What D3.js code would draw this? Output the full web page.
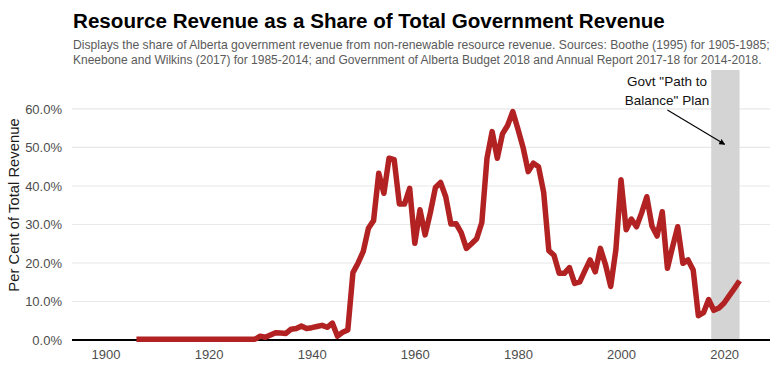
<!DOCTYPE html>
<html>
<head>
<meta charset="utf-8">
<script src="https://cdn.jsdelivr.net/npm/d3@7"></script>
<style>
  html, body { margin: 0; padding: 0; background: #fff; }
  svg { display: block; font-family: "Liberation Sans", Arial, sans-serif; }
</style>
</head>
<body>
<svg id="chart" width="780" height="390"></svg>
<script>
// ---------- DATA ----------
const years = d3.range(1906, 2024);
const earlyZeros = d3.range(1906, 1930).map(() => 0.2); // 1906-1929
const shares1930on = [
  1.0, 0.7, 1.3, 1.9, 1.8, 1.7, 2.8, 3.0, 3.6, 3.0,       // 1930-1939
  3.2, 3.5, 3.8, 3.3, 4.4, 1.0, 2.0, 2.6, 17.5, 20.0,     // 1940-1949
  23.0, 29.0, 31.0, 43.3, 38.1, 47.2, 46.8, 35.3, 35.3, 39.4, // 1950-1959
  25.1, 33.8, 27.3, 33.0, 39.6, 40.9, 37.2, 30.1, 30.2, 27.9, // 1960-1969
  23.8, 25.0, 26.3, 30.5, 47.2, 54.1, 47.2, 53.5, 55.7, 59.3, // 1970-1979
  54.8, 50.0, 43.7, 45.9, 45.0, 38.3, 23.2, 22.0, 17.3, 17.3, // 1980-1989
  18.8, 14.7, 15.1, 18.0, 20.8, 17.7, 23.8, 19.5, 13.9, 23.4, // 1990-1999
  41.6, 28.6, 31.4, 29.4, 33.0, 37.2, 29.6, 27.0, 33.3, 18.6, // 2000-2009
  24.2, 29.4, 19.9, 20.8, 18.2, 6.3, 7.1, 10.5, 7.7, 8.3,     // 2010-2019
  9.6, 11.5, 13.4, 15.4                                       // 2020-2023
];
const shares = earlyZeros.concat(shares1930on);
const yTicks = [0, 10, 20, 30, 40, 50, 60];
const xTicks = [1900, 1920, 1940, 1960, 1980, 2000, 2020];
const planBand = [2017.5, 2023];
const titleText = "Resource Revenue as a Share of Total Government Revenue";
const subtitleLines = [
  "Displays the share of Alberta government revenue from non-renewable resource revenue. Sources: Boothe (1995) for 1905-1985;",
  "Kneebone and Wilkins (2017) for 1985-2014; and Government of Alberta Budget 2018 and Annual Report 2017-18 for 2014-2018."
];
const annotationLines = ['Govt "Path to', 'Balance" Plan'];
const yTitle = "Per Cent of Total Revenue";
const arrowFrom = [2009, 59.7];
const arrowTo = [2020.1, 50.8];

const data = years.map((yr, i) => ({ year: yr, value: shares[i] }));

// ---------- LAYOUT ----------
const svg = d3.select("#chart");
const pLeft = 72, pRight = 770, pTop = 70, pBottom = 340;

const x = d3.scaleLinear().domain([1893.5, 2028.9]).range([pLeft, pRight]);
const y = d3.scaleLinear().domain([0, 70.1]).range([pBottom, pTop]);

// Title
const title = svg.append("text")
  .attr("x", 73).attr("y", 28)
  .attr("font-weight", "bold").attr("font-size", 22)
  .attr("fill", "#000")
  .text(titleText);
{
  const w = title.node().getComputedTextLength();
  title.attr("font-size", 22 * 592 / w);
}

// Subtitle
subtitleLines.forEach((line, i) => {
  const t = svg.append("text")
    .attr("x", 73).attr("y", 49 + i * 14.5)
    .attr("font-size", 11.5)
    .attr("fill", "#5a5a5a")
    .text(line);
  const w = t.node().getComputedTextLength();
  const target = i === 0 ? 697 : 689;
  t.attr("font-size", 11.5 * target / w);
});

// Gridlines
svg.append("g")
  .selectAll("line")
  .data(yTicks.filter(d => d > 0))
  .join("line")
  .attr("x1", pLeft).attr("x2", pRight)
  .attr("y1", d => y(d)).attr("y2", d => y(d))
  .attr("stroke", "#e8e8e8").attr("stroke-width", 1.1);

// Plan band
svg.append("rect")
  .attr("x", x(planBand[0]))
  .attr("width", x(planBand[1]) - x(planBand[0]))
  .attr("y", pTop)
  .attr("height", pBottom - pTop)
  .attr("fill", "#d4d4d4");

// Baseline
svg.append("line")
  .attr("x1", pLeft).attr("x2", pRight)
  .attr("y1", y(0)).attr("y2", y(0))
  .attr("stroke", "#000").attr("stroke-width", 2);

// Line
svg.append("path")
  .datum(data)
  .attr("fill", "none")
  .attr("stroke", "#b22222")
  .attr("stroke-width", 5.5)
  .attr("stroke-linejoin", "round")
  .attr("d", d3.line().x(d => x(d.year)).y(d => y(d.value)));

// Y axis
const yAxis = svg.append("g")
  .attr("transform", `translate(${pLeft - 8},0)`)
  .call(d3.axisLeft(y).tickValues(yTicks).tickSize(0).tickPadding(2)
        .tickFormat(d => d.toFixed(1) + "%"));
yAxis.select(".domain").remove();
yAxis.selectAll("text")
  .attr("font-family", "Liberation Sans, Arial, sans-serif")
  .attr("font-size", 13).attr("fill", "#4d4d4d");

// X axis
const xAxis = svg.append("g")
  .attr("transform", `translate(0,${pBottom + 7})`)
  .call(d3.axisBottom(x).tickValues(xTicks).tickSize(0).tickPadding(3)
        .tickFormat(d3.format("d")));
xAxis.select(".domain").remove();
xAxis.selectAll("text")
  .attr("font-family", "Liberation Sans, Arial, sans-serif")
  .attr("font-size", 13).attr("fill", "#4d4d4d");

// Y title
svg.append("text")
  .attr("transform", `translate(19,${(pTop + pBottom) / 2}) rotate(-90)`)
  .attr("text-anchor", "middle")
  .attr("font-size", 14.8)
  .attr("fill", "#1a1a1a")
  .text(yTitle);

// Annotation
annotationLines.forEach((line, i) => {
  svg.append("text")
    .attr("x", 667).attr("y", 86 + i * 19)
    .attr("text-anchor", "middle")
    .attr("font-size", 13.5)
    .attr("fill", "#111")
    .text(line);
});

svg.append("defs").append("marker")
  .attr("id", "arrowhead")
  .attr("viewBox", "0 0 10 10")
  .attr("refX", 9).attr("refY", 5)
  .attr("markerWidth", 6).attr("markerHeight", 6)
  .attr("markerUnits", "userSpaceOnUse")
  .attr("orient", "auto")
  .append("path")
  .attr("d", "M0,0 L10,5 L0,10 Z")
  .attr("fill", "#000");

svg.append("line")
  .attr("x1", x(arrowFrom[0])).attr("y1", y(arrowFrom[1]))
  .attr("x2", x(arrowTo[0])).attr("y2", y(arrowTo[1]))
  .attr("stroke", "#000").attr("stroke-width", 1.1)
  .attr("marker-end", "url(#arrowhead)");
</script>
</body>
</html>
